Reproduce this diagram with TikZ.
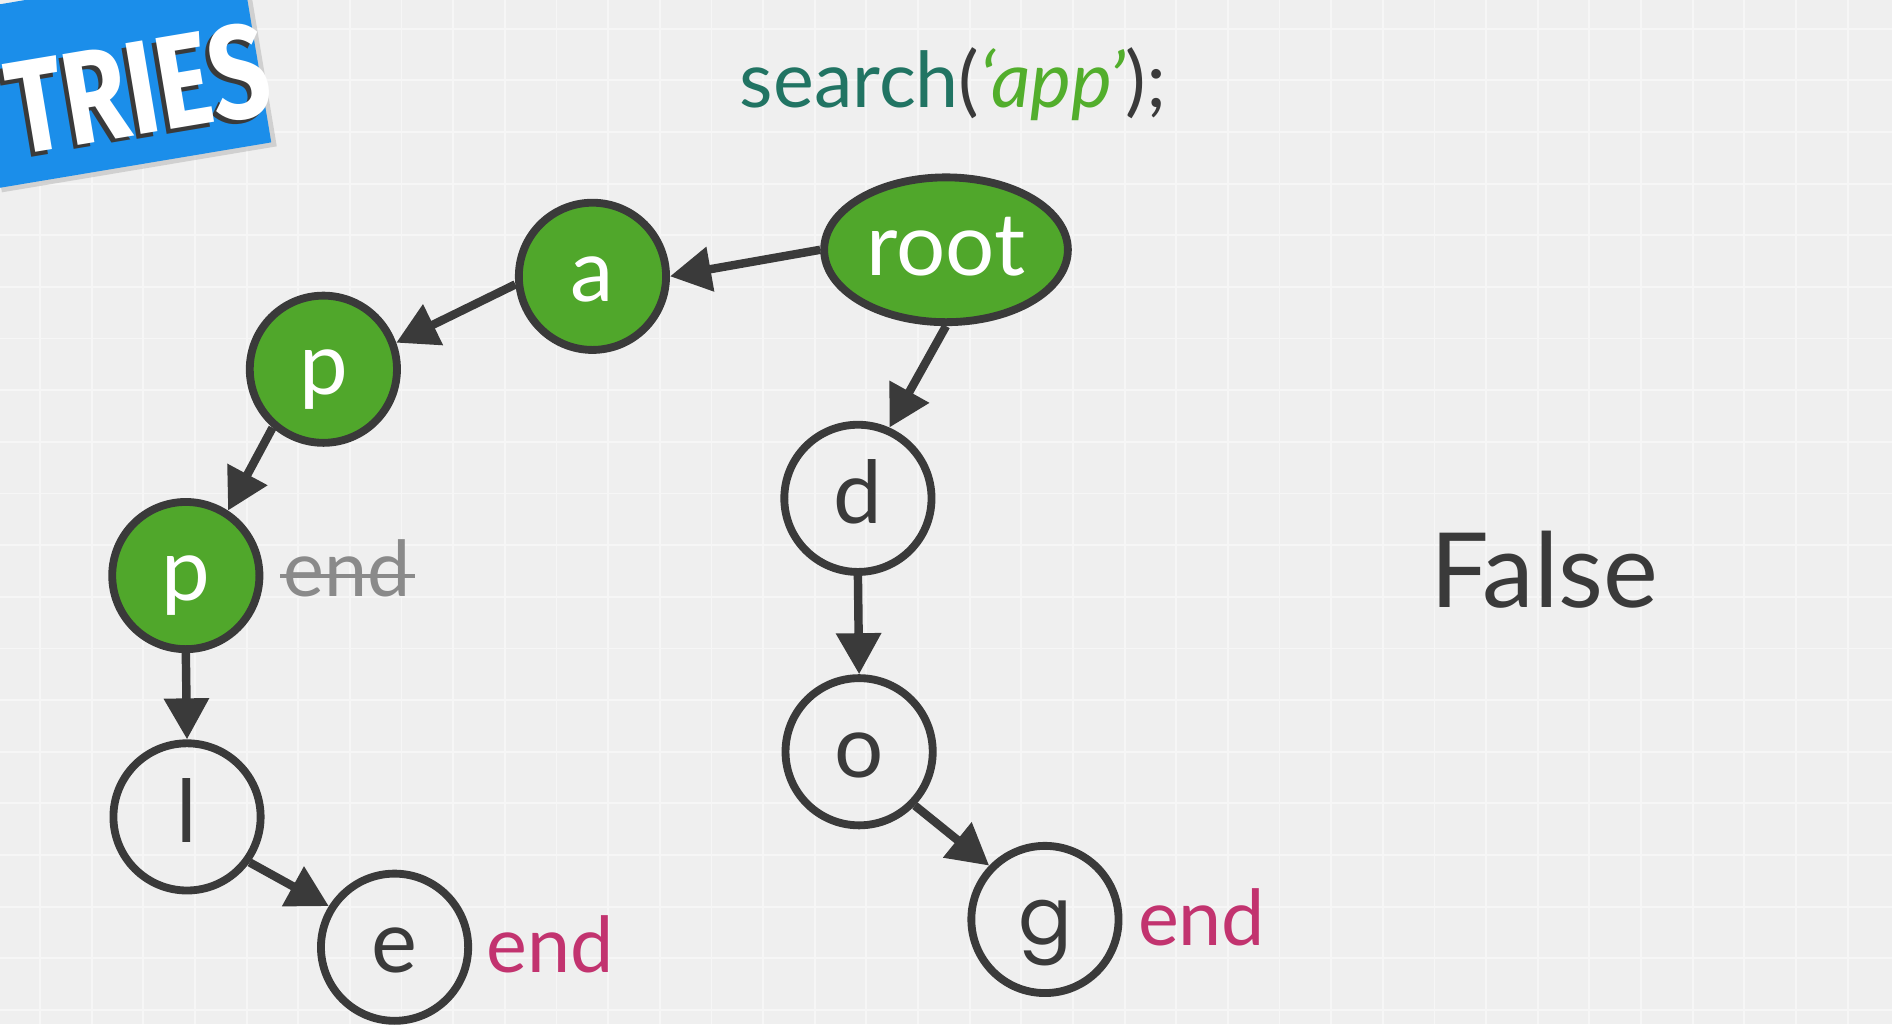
\documentclass[tikz,border=0pt]{standalone}
\usepackage{fontspec}
\setmainfont{Lato}
\newfontfamily\triesfont[FakeStretch=0.78]{Fira Sans}
\newfontfamily\gfont{Poppins}
\usetikzlibrary{arrows.meta,shapes.geometric,calc}
\definecolor{bg}{HTML}{EFEFEF}
\definecolor{gridc}{HTML}{F6F6F6}
\definecolor{dk}{HTML}{3A3A3A}
\definecolor{gr}{HTML}{50A72B}
\definecolor{teal}{HTML}{217463}
\definecolor{appg}{HTML}{52AE2C}
\definecolor{mag}{HTML}{C2336F}
\definecolor{strk}{HTML}{8A8A8A}
\definecolor{blu}{HTML}{1B8EEA}
\newcommand\nodefont{\fontsize{72}{80}\selectfont}
\newcommand\triesfs{\triesfont\bfseries\fontsize{110}{110}\selectfont}
\begin{document}
\begin{tikzpicture}[x=1pt,y=-1pt,
  tnode/.style={circle, draw=dk, line width=6.5pt, minimum size=122pt, inner sep=0pt,
    font=\nodefont, text height=42pt, text depth=0pt},
  gnode/.style={tnode, fill=gr, text=white},
  wnode/.style={tnode, text=dk},
  arr/.style={draw=dk, line width=7pt, -{Triangle[length=34pt,width=36pt]}},
  endlab/.style={font=\fontsize{64}{80}\selectfont, text=mag, inner sep=0pt, anchor=west},
  gridline/.style={draw=gridc, line width=1.5pt}
]
\useasboundingbox (0,0) rectangle (1568,849);
\clip (0,0) rectangle (1568,849);
\fill[bg] (0,0) rectangle (1568,849);
\foreach \i in {0,...,36} \draw[gridline] (33.2+42.8*\i,0) -- (33.2+42.8*\i,849);
\foreach \j in {0,...,19} \draw[gridline] (0,23.8+42.8*\j) -- (1568,23.8+42.8*\j);

% banner
\begin{scope}[shift={(99,63)}, rotate=9.5]
  \fill[black!30, opacity=0.5] (-112,-72) rectangle (119,79);
  \fill[blu] (-115,-75) rectangle (115,75);
  \node[font=\triesfs, text=dk, rotate=9.5, inner sep=0pt] (triesS) at (10,16) {TRIES};
  \node[font=\triesfs, text=white, rotate=9.5, inner sep=0pt] (tries) at (14,13) {TRIES};
\end{scope}

% title
\node[font=\fontsize{64}{70}\selectfont, inner sep=0pt] (title) at (790,70)
  {\textcolor{teal}{search}\textcolor{dk}{(}\textcolor{appg}{\itshape ‘app’}\textcolor{dk}{);}};

% nodes
\node[gnode, ellipse, minimum width=202pt, minimum height=120pt] (root) at (784,207) {root};
\node[gnode] (a) at (491,229) {a};
\node[gnode] (p1) at (268,306) {p};
\node[gnode] (p2) at (154,477) {p};
\node[wnode] (l) at (155,677) {l};
\node[wnode] (e) at (327,785) {e};
\node[wnode] (d) at (711,413) {d};
\node[wnode] (o) at (712,623) {o};
\node[wnode, font=\gfont\fontsize{66}{80}\selectfont] (g) at (866,762) {g};

% labels
\node[font=\fontsize{64}{80}\selectfont, text=strk, inner sep=0pt] (endA) at (288,471) {end};
\draw[strk, line width=4pt] ($(endA.base west)+(-3,-17)$) -- ($(endA.base east)+(3,-17)$);
\node[endlab] (endE) at (403,783) {end};
\node[endlab] (endG) at (943,760) {end};
\node[font=\fontsize{86}{90}\selectfont, text=dk, inner sep=0pt] (false) at (1280,472) {False};

% arrows
\draw[arr] (root.west) -- (a.east);
\draw[arr] (a.186) -- (p1.20);
\draw[arr] (p1.229) -- (p2.57);
\draw[arr] (p2.south) -- (l.north);
\draw[arr] (l.-36) -- (e.148);
\draw[arr] (root.south) -- (d.66);
\draw[arr] (d.south) -- (o.north);
\draw[arr] (o.-44) -- (g.136);
\end{tikzpicture}
\end{document}
